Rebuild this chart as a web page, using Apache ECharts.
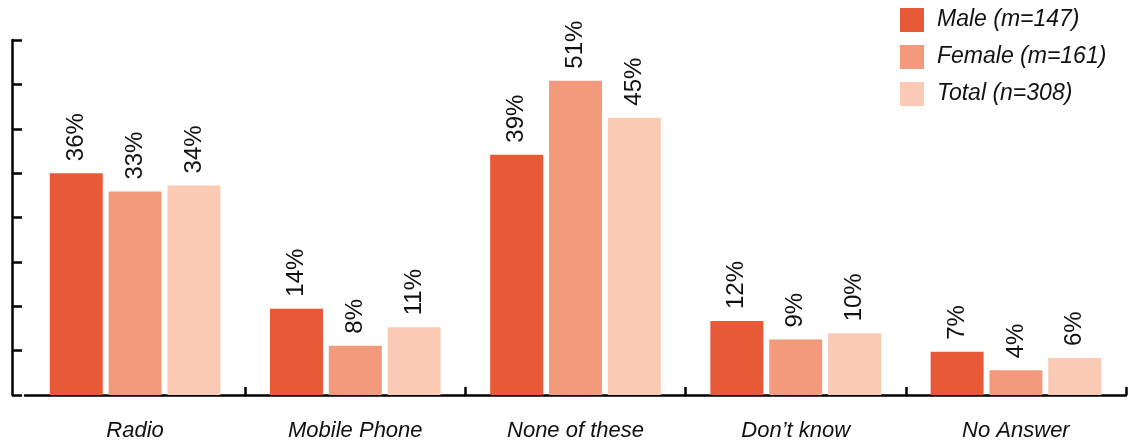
<!DOCTYPE html>
<html>
<head>
<meta charset="utf-8">
<script src="https://cdn.jsdelivr.net/npm/echarts@6/dist/echarts.min.js"></script>
<style>html,body{margin:0;padding:0;background:#fff}#c{width:1133px;height:446px}</style>
</head>
<body>
<div id="c"></div>
<script>
var categories = ['Radio', 'Mobile Phone', 'None of these', 'Don\u2019t know', 'No Answer'];
var seriesNames = ['Male (m=147)', 'Female (m=161)', 'Total (n=308)'];
var male = [36, 14, 39, 12, 7];
var female = [33, 8, 51, 9, 4];
var total = [34, 11, 45, 10, 6];
var colors = ['#E85A37', '#F29A7B', '#FBCAB4'];
var FONT = '"Liberation Sans", Arial, Helvetica, sans-serif';

var chart = echarts.init(document.getElementById('c'), null, {renderer: 'canvas'});
function mk(name, data, color) {
  return {
    name: name, type: 'bar', data: data, barWidth: 53, barGap: '11%',
    itemStyle: {color: color},
    label: {
      show: true, position: 'top', rotate: 90, align: 'left', verticalAlign: 'middle',
      distance: 12, formatter: '{c}%', color: '#111', fontSize: 24, fontFamily: FONT
    }
  };
}
chart.setOption({
  animation: false,
  grid: {left: 25, right: 7, top: 40, bottom: 51},
  legend: {
    orient: 'vertical', left: 900, top: 8, padding: 0,
    itemWidth: 24, itemHeight: 24, itemGap: 13, icon: 'rect',
    textStyle: {fontSize: 23, fontStyle: 'italic', fontFamily: FONT, color: '#111', padding: [0, 0, 0, 8]},
    data: seriesNames
  },
  xAxis: {
    type: 'category', data: categories,
    axisLine: {lineStyle: {color: '#000', width: 2.5}},
    axisTick: {show: true, inside: true, length: 8, interval: function (i) { return i !== 0; }, lineStyle: {color: '#000', width: 2.5}},
    axisLabel: {fontSize: 22, fontStyle: 'italic', fontFamily: FONT, color: '#111', margin: 25, interval: 0}
  },
  yAxis: {
    type: 'value', min: 0, max: 57.6, interval: 7.2, offset: 13,
    axisLine: {show: true, lineStyle: {color: '#000', width: 2.5}},
    axisTick: {show: true, inside: true, length: 10, lineStyle: {color: '#000', width: 2.5}},
    axisLabel: {show: false},
    splitLine: {show: false}
  },
  series: [mk(seriesNames[0], male, colors[0]), mk(seriesNames[1], female, colors[1]), mk(seriesNames[2], total, colors[2])]
});
</script>
</body>
</html>
